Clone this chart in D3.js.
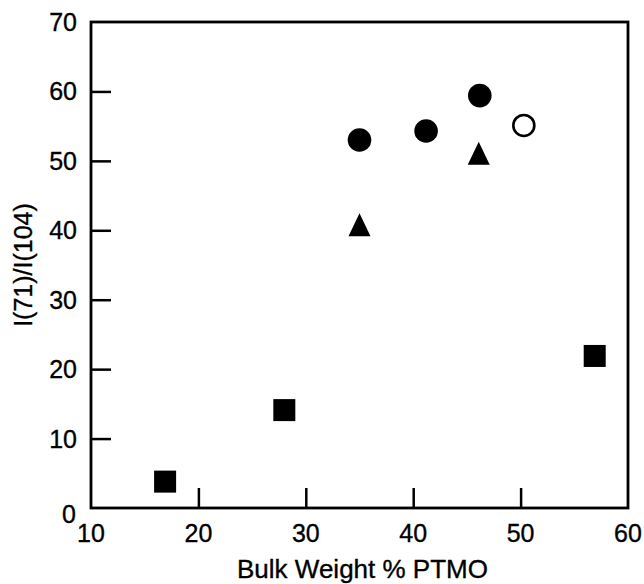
<!DOCTYPE html>
<html>
<head>
<meta charset="utf-8">
<script src="https://cdn.jsdelivr.net/npm/d3@7"></script>
<style>
	body { margin: 0; background: #fff; }
	text { font-family: "Liberation Sans", Arial, sans-serif; fill: #000; stroke: #000; stroke-width: 0.35; }
</style>
</head>
<body>
<div id="chart"></div>
<script>

// data
const squares = [[16.9, 3.8], [28.0, 14.1], [56.9, 21.9]]
	, filledCircles = [[35.0, 53.0], [41.2, 54.3], [46.2, 59.4]]
	, openCircles = [[50.3, 55.1]]
	, triangles = [[35.0, 40.8], [46.1, 51.1]]
	, xTicks = [10, 20, 30, 40, 50, 60]
	, yTicks = [0, 10, 20, 30, 40, 50, 60, 70]

const width = 644
	, height = 584
	, margin = { left: 91, right: 16, top: 22, bottom: 76 }

const x = d3.scaleLinear()
	.domain([10, 60])
	.range([margin.left, width - margin.right])

const y = d3.scaleLinear()
	.domain([0, 70])
	.range([height - margin.bottom, margin.top])

const svg = d3.select('#chart')
	.append('svg')
	  .attr('width', width)
	  .attr('height', height)

// frame
svg.append('rect')
	.attr('x', x(10))
	.attr('y', y(70))
	.attr('width', x(60) - x(10))
	.attr('height', y(0) - y(70))
	.attr('fill', 'none')
	.attr('stroke', '#000')
	.attr('stroke-width', 2.8)

// inward ticks, no labels from the axis itself
const xAxis = d3.axisBottom(x).tickValues(xTicks.slice(1, -1)).tickSize(-20).tickFormat('')
const yAxis = d3.axisLeft(y).tickValues(yTicks.slice(1, -1)).tickSize(-20).tickFormat('')

svg.append('g')
	.attr('transform', 'translate(0,' + y(0) + ')')
	.call(xAxis)
	.call(g => g.select('.domain').remove())
	.call(g => g.selectAll('line').attr('stroke', '#000').attr('stroke-width', 2.5))

svg.append('g')
	.attr('transform', 'translate(' + x(10) + ',0)')
	.call(yAxis)
	.call(g => g.select('.domain').remove())
	.call(g => g.selectAll('line').attr('stroke', '#000').attr('stroke-width', 2.5))

// tick labels
svg.append('g').selectAll('text')
	.data(xTicks)
	.join('text')
	  .attr('x', d => x(d))
	  .attr('y', y(0) + 34)
	  .attr('text-anchor', 'middle')
	  .style('font-size', '25px')
	  .text(d => d)

svg.append('g').selectAll('text')
	.data(yTicks)
	.join('text')
	  .attr('x', d => d === 0 ? x(10) - 15 : x(10) - 14)
	  .attr('y', d => y(d) + (d === 0 ? 15 : 9))
	  .attr('text-anchor', 'end')
	  .style('font-size', '25px')
	  .text(d => d)

// axis titles
svg.append('text')
	.attr('x', (x(10) + x(60)) / 2 + 3)
	.attr('y', 578)
	.attr('text-anchor', 'middle')
	.style('font-size', '26px')
	.text('Bulk Weight % PTMO')

svg.append('text')
	.attr('transform', 'translate(32,' + 265 + ') rotate(-90)')
	.attr('text-anchor', 'middle')
	.style('font-size', '25px')
	.text('I(71)/I(104)')

// marks
svg.append('g').selectAll('rect')
	.data(squares)
	.join('rect')
	  .attr('x', d => x(d[0]) - 11)
	  .attr('y', d => y(d[1]) - 11)
	  .attr('width', 22)
	  .attr('height', 22)
	  .attr('fill', '#000')

svg.append('g').selectAll('circle')
	.data(filledCircles)
	.join('circle')
	  .attr('cx', d => x(d[0]))
	  .attr('cy', d => y(d[1]))
	  .attr('r', 11.8)
	  .attr('fill', '#000')

svg.append('g').selectAll('circle')
	.data(openCircles)
	.join('circle')
	  .attr('cx', d => x(d[0]))
	  .attr('cy', d => y(d[1]))
	  .attr('r', 10.5)
	  .attr('fill', '#fff')
	  .attr('stroke', '#000')
	  .attr('stroke-width', 2.6)

svg.append('g').selectAll('path')
	.data(triangles)
	.join('path')
	  .attr('transform', d => 'translate(' + x(d[0]) + ',' + y(d[1]) + ')')
	  .attr('d', 'M0,-11.5L11,11.5L-11,11.5Z')
	  .attr('fill', '#000')

</script>
</body>
</html>
